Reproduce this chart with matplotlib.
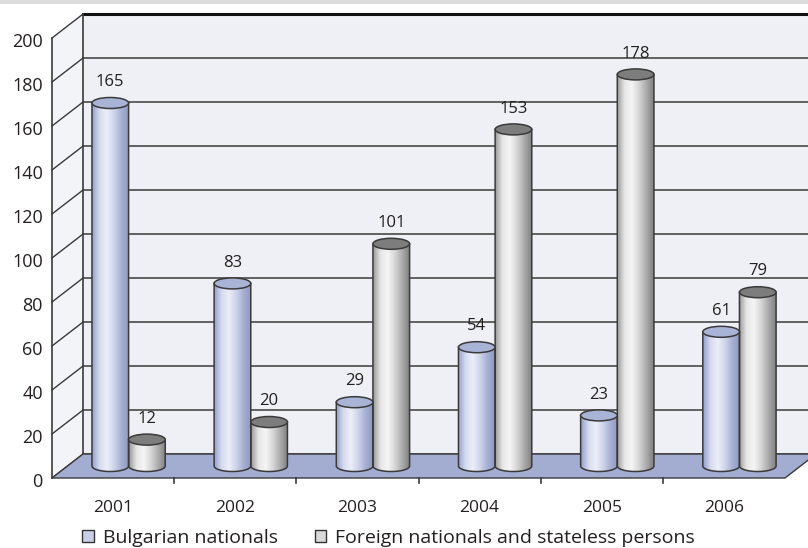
import numpy as np
import matplotlib
matplotlib.use("Agg")
import matplotlib.pyplot as plt
import matplotlib.patches as mpatches
from matplotlib.colors import LinearSegmentedColormap

plt.rcParams['font.family'] = ['Open Sans', 'DejaVu Sans']

'''data'''
years = ['2001', '2002', '2003', '2004', '2005', '2006']
bulgarian = [165, 83, 29, 54, 23, 61]
foreign = [12, 20, 101, 153, 178, 79]
series_names = ['Bulgarian nationals', 'Foreign nationals and stateless persons']
y_ticks = [0, 20, 40, 60, 80, 100, 120, 140, 160, 180, 200]

'''layout (category units across, value units up)'''
dx, dy = 0.254, 10.9        # depth offset of the back wall
bw = 0.30                   # cylinder width
eh = 5.0                    # ellipse height in value units
txt = '#231f20'
line = '#3a3a3a'

blue_cm = LinearSegmentedColormap.from_list('b', ['#96a1cb', '#d5daee', '#eceef8', '#cfd4ea', '#a7b0d4', '#8e99c4'])
gray_cm = LinearSegmentedColormap.from_list('g', ['#9a9a9a', '#e6e6e6', '#f5f5f5', '#d6d6d6', '#aaaaaa', '#808080'])

fig = plt.figure(figsize=(8.08, 5.48), dpi=100)
ax = fig.add_axes([0, 0, 1, 1])
ax.axis('off')
xmin, xmax = -52 / 122.17, (808 - 52) / 122.17
ymin, ymax = -70 / 2.2, 478 / 2.2

# top grey strip
fig.patches.append(mpatches.Rectangle((0, 0.992), 1, 0.01, transform=fig.transFigure,
                                      facecolor='#dcdcdc', edgecolor='none'))

# walls
ax.add_patch(mpatches.Polygon([(0, 0), (dx, dy), (dx, 200 + dy), (0, 200)],
                              facecolor='#f3f4f8', edgecolor='none', zorder=1))
ax.add_patch(mpatches.Rectangle((dx, dy), xmax - dx + 1, 200, facecolor='#eef0f5',
                                edgecolor='none', zorder=1))
for v in y_ticks:
    lw = 2.2 if v == 200 else 1.1
    col = '#111111' if v == 200 else line
    ax.plot([dx, xmax + 1], [v + dy, v + dy], color=col, lw=lw, zorder=2)
    ax.plot([0, dx], [v, v + dy], color=line, lw=1.0, zorder=2)
    ax.text(-0.075, v - 2, str(v), ha='right', va='center', fontsize=13, color=txt)
ax.plot([0, 0], [0, 200], color=line, lw=1.2, zorder=2)
ax.plot([dx, dx], [dy, 200 + dy], color=line, lw=1.2, zorder=2)

# floor
ax.add_patch(mpatches.Polygon([(0, 0), (dx, dy), (6 + dx, dy), (6, 0)],
                              facecolor='#a3acd1', edgecolor=line, lw=1.0, zorder=3))
for i in range(1, 6):
    ax.plot([i, i], [0, -2.3], color=line, lw=1.2, zorder=3)
for i, y in enumerate(years):
    ax.text(i + 0.5, -13.5, y, ha='center', va='center', fontsize=12.5, color=txt)


def cylinder(xc, val, cmap, top_col):
    base = dy / 2
    top = val + dy / 2
    x0, x1 = xc - bw / 2, xc + bw / 2
    t = np.linspace(0, -np.pi, 40)
    pts = [(x0, top), (x1, top)] + [(xc + bw / 2 * np.cos(a), base + eh / 2 * np.sin(a)) for a in t]
    body = mpatches.Polygon(pts, closed=True, facecolor='none', edgecolor=line, lw=1.1, zorder=6)
    grad = np.linspace(0, 1, 100).reshape(1, -1)
    im = ax.imshow(grad, cmap=cmap, extent=[x0, x1, base - eh, top], aspect='auto', zorder=5)
    ax.add_patch(body)
    im.set_clip_path(body)
    ax.add_patch(mpatches.Ellipse((xc, top), bw, eh, facecolor=top_col, edgecolor=line, lw=1.1, zorder=7))
    ax.text(xc, top + 9.5, str(val), ha='center', va='center', fontsize=12, color=txt, zorder=8)


for i in range(len(years)):
    c = i + 0.5 + dx / 2
    cylinder(c - bw / 2, bulgarian[i], blue_cm, '#a9b3d6')
    cylinder(c + bw / 2, foreign[i], gray_cm, '#7d7d7d')

ax.set_xlim(xmin, xmax)
ax.set_ylim(ymin, ymax)

handles = [mpatches.Patch(facecolor='#c9cfe8', edgecolor='#333333', lw=1.0),
           mpatches.Patch(facecolor='#d9d9d9', edgecolor='#333333', lw=1.0)]
fig.legend(handles, series_names, loc='lower left', bbox_to_anchor=(0.08, -0.03), ncol=2,
           frameon=False, fontsize=14, handlelength=0.6, handleheight=0.6, handletextpad=0.45,
           columnspacing=1.9, labelcolor=txt)

plt.savefig('out.png', dpi=100)
